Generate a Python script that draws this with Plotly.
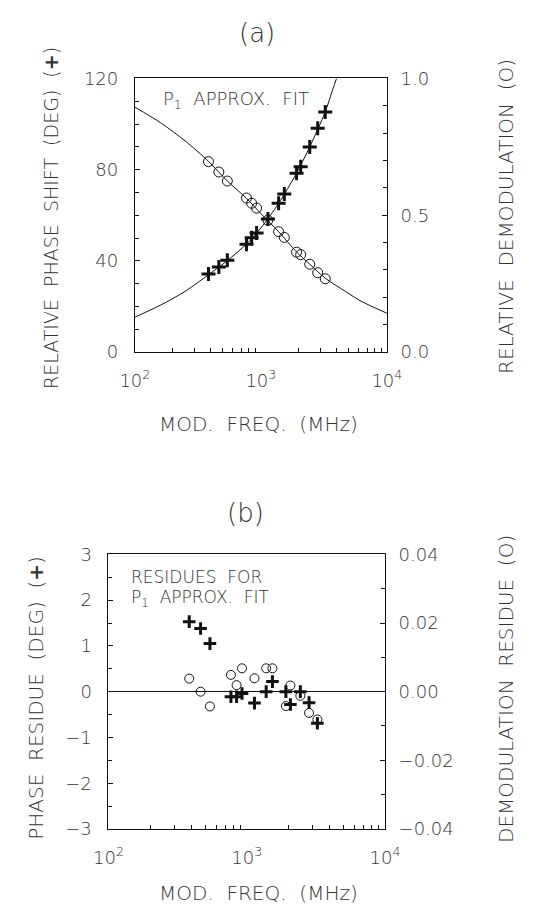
import plotly.graph_objects as go

# ---------------- data ----------------
freq = [384, 464, 542, 769, 845, 925, 1138, 1383, 1535, 1920, 2070, 2443, 2825, 3244]
phase = [34.2, 37.3, 40.3, 47.3, 50.1, 52.2, 58.4, 65.3, 69.3, 78.4, 81.3, 89.9, 98.1, 105.3]
demod = [0.696, 0.658, 0.625, 0.563, 0.544, 0.526, 0.482, 0.440, 0.419, 0.365, 0.356, 0.321, 0.290, 0.268]

# fitted curves
fit_phase_freq = [100, 160, 250, 384, 542, 769, 1000, 1383, 1920, 2443, 3244, 3724, 3990]
fit_phase_val = [15.3, 20.6, 26.6, 33.9, 40.1, 47.4, 54.4, 65.2, 78.5, 90.0, 105.4, 115.3, 120.0]
fit_demod_freq = [100, 160, 250, 384, 542, 769, 1000, 1383, 1920, 2443, 3244, 4677, 6237, 10000]
fit_demod_val = [0.895, 0.838, 0.772, 0.697, 0.625, 0.562, 0.506, 0.440, 0.366, 0.321, 0.270, 0.222, 0.186, 0.142]

# residues
phase_res = [1.53, 1.38, 1.05, -0.11, -0.11, -0.04, -0.25, 0.0, 0.22, 0.0, -0.28, 0.0, -0.24, -0.69]
demod_res = [0.0038, 0.0, -0.0043, 0.0049, 0.0019, 0.0068, 0.0039, 0.0068, 0.0068, -0.0042, 0.0018, -0.0012, -0.0062, -0.0081]

decade_vals = [100, 1000, 10000]
decade_text = ["10<sup>2</sup>", "10<sup>3</sup>", "10<sup>4</sup>"]
minor_vals = [200, 300, 400, 500, 600, 700, 800, 900, 2000, 3000, 4000, 5000, 6000, 7000, 8000, 9000]

W, H = 534, 924
FONT = "DejaVu Sans"
TXT = "#333"
INK = "#111"


def px(x):
    return x / W


def py(y):
    return 1 - y / H


fig = go.Figure()

# ---- panel (a) ----
fig.add_trace(go.Scatter(x=fit_phase_freq, y=fit_phase_val, mode="lines",
                         line=dict(color=INK, width=1, shape="spline", smoothing=0.8),
                         xaxis="x", yaxis="y", showlegend=False))
fig.add_trace(go.Scatter(x=fit_demod_freq, y=fit_demod_val, mode="lines",
                         line=dict(color=INK, width=1, shape="spline", smoothing=0.8),
                         xaxis="x", yaxis="y2", showlegend=False))
fig.add_trace(go.Scatter(x=freq, y=phase, mode="markers",
                         marker=dict(symbol="cross-thin-open", size=10, color=INK,
                                     line=dict(color=INK, width=3)),
                         xaxis="x", yaxis="y", showlegend=False))
fig.add_trace(go.Scatter(x=freq, y=demod, mode="markers",
                         marker=dict(symbol="circle-open", size=10, color=INK,
                                     line=dict(color=INK, width=1)),
                         xaxis="x", yaxis="y2", showlegend=False))

# ---- panel (b) ----
fig.add_trace(go.Scatter(x=freq, y=phase_res, mode="markers",
                         marker=dict(symbol="cross-thin-open", size=9, color=INK,
                                     line=dict(color=INK, width=3)),
                         xaxis="x2", yaxis="y3", showlegend=False))
fig.add_trace(go.Scatter(x=freq, y=demod_res, mode="markers",
                         marker=dict(symbol="circle-open", size=9, color=INK,
                                     line=dict(color=INK, width=1)),
                         xaxis="x2", yaxis="y4", showlegend=False))

tickfont = dict(family=FONT, size=18, color=TXT, weight=200)


def xax(domain, anchor):
    return dict(type="log", domain=domain, anchor=anchor, range=[2, 4],
                tickmode="array", tickvals=decade_vals, ticktext=decade_text,
                ticks="", showline=True, linecolor=INK, linewidth=1, mirror=True,
                showgrid=False, zeroline=False, tickfont=tickfont,
                ticklabelstandoff=12,
                minor=dict(tickmode="array", tickvals=minor_vals, ticks="inside",
                           ticklen=4, tickcolor=INK, showgrid=False))


fig.update_layout(
    width=W, height=H,
    margin=dict(l=0, r=0, t=0, b=0),
    paper_bgcolor="white", plot_bgcolor="white",
    showlegend=False,
    xaxis=xax([px(127), px(394)], "y"),
    yaxis=dict(domain=[py(349), py(69)], anchor="x", range=[0, 120],
               tickvals=[0, 40, 80, 120], ticks="inside", ticklen=5, tickcolor=INK,
               showline=True, linecolor=INK, linewidth=1, showgrid=False, zeroline=False,
               tickfont=tickfont, ticklabelstandoff=12,
               minor=dict(dtick=10, ticks="inside", ticklen=4, tickcolor=INK, showgrid=False)),
    yaxis2=dict(overlaying="y", side="right", anchor="x", range=[0, 1],
                tickvals=[0, 0.5, 1.0], ticktext=["0.0", "0.5", "1.0"],
                ticks="inside", ticklen=5, tickcolor=INK,
                showline=True, linecolor=INK, linewidth=1, showgrid=False, zeroline=False,
                tickfont=tickfont, ticklabelstandoff=9,
                minor=dict(dtick=0.1, ticks="inside", ticklen=4, tickcolor=INK, showgrid=False)),
    xaxis2=xax([px(99), px(392)], "y3"),
    yaxis3=dict(domain=[py(837), py(556)], anchor="x2", range=[-3, 3],
                tickvals=[-3, -2, -1, 0, 1, 2, 3],
                ticktext=["\u22123", "\u22122", "\u22121", "0", "1", "2", "3"],
                ticks="inside", ticklen=5, tickcolor=INK,
                showline=True, linecolor=INK, linewidth=1, showgrid=False,
                zeroline=True, zerolinecolor=INK, zerolinewidth=1,
                tickfont=tickfont, ticklabelstandoff=12,
                minor=dict(dtick=0.5, ticks="inside", ticklen=4, tickcolor=INK, showgrid=False)),
    yaxis4=dict(overlaying="y3", side="right", anchor="x2", range=[-0.04, 0.04],
                tickvals=[-0.04, -0.02, 0, 0.02, 0.04],
                ticktext=["\u22120.04", "\u22120.02", "0.00", "0.02", "0.04"],
                ticks="inside", ticklen=5, tickcolor=INK,
                showline=True, linecolor=INK, linewidth=1, showgrid=False, zeroline=False,
                tickfont=tickfont, ticklabelstandoff=9,
                minor=dict(dtick=0.01, ticks="inside", ticklen=4, tickcolor=INK, showgrid=False)),
)


def ann(text, x, y, size=17, angle=0, xanchor="center"):
    fig.add_annotation(text=text, x=px(x), y=py(y), xref="paper", yref="paper",
                       showarrow=False, textangle=angle, xanchor=xanchor, yanchor="middle",
                       font=dict(family=FONT, size=size, color=TXT, weight=200))


ann("(a)", 256, 22, size=26)
ann("(b)", 244, 514, size=26)
ann("P<sub>1</sub>  APPROX.  FIT", 155, 91, size=18, xanchor="left")
ann("RESIDUES  FOR", 121, 579, size=17, xanchor="left")
ann("P<sub>1</sub>  APPROX.  FIT", 121, 601, size=17, xanchor="left")

ann("RELATIVE  PHASE  SHIFT  (DEG)  (<b>+</b>)", 38, 212, size=19, angle=-90)
ann("RELATIVE  DEMODULATION  (O)", 520, 210, size=20, angle=-90)
ann("MOD.  FREQ.  (MHz)", 258, 423, size=20)

ann("PHASE  RESIDUE  (DEG)  (<b>+</b>)", 22, 703, size=20, angle=-90)
ann("DEMODULATION  RESIDUE  (O)", 520, 694, size=20, angle=-90)
ann("MOD.  FREQ.  (MHz)", 258, 903, size=20)

fig.write_html("out.html")
